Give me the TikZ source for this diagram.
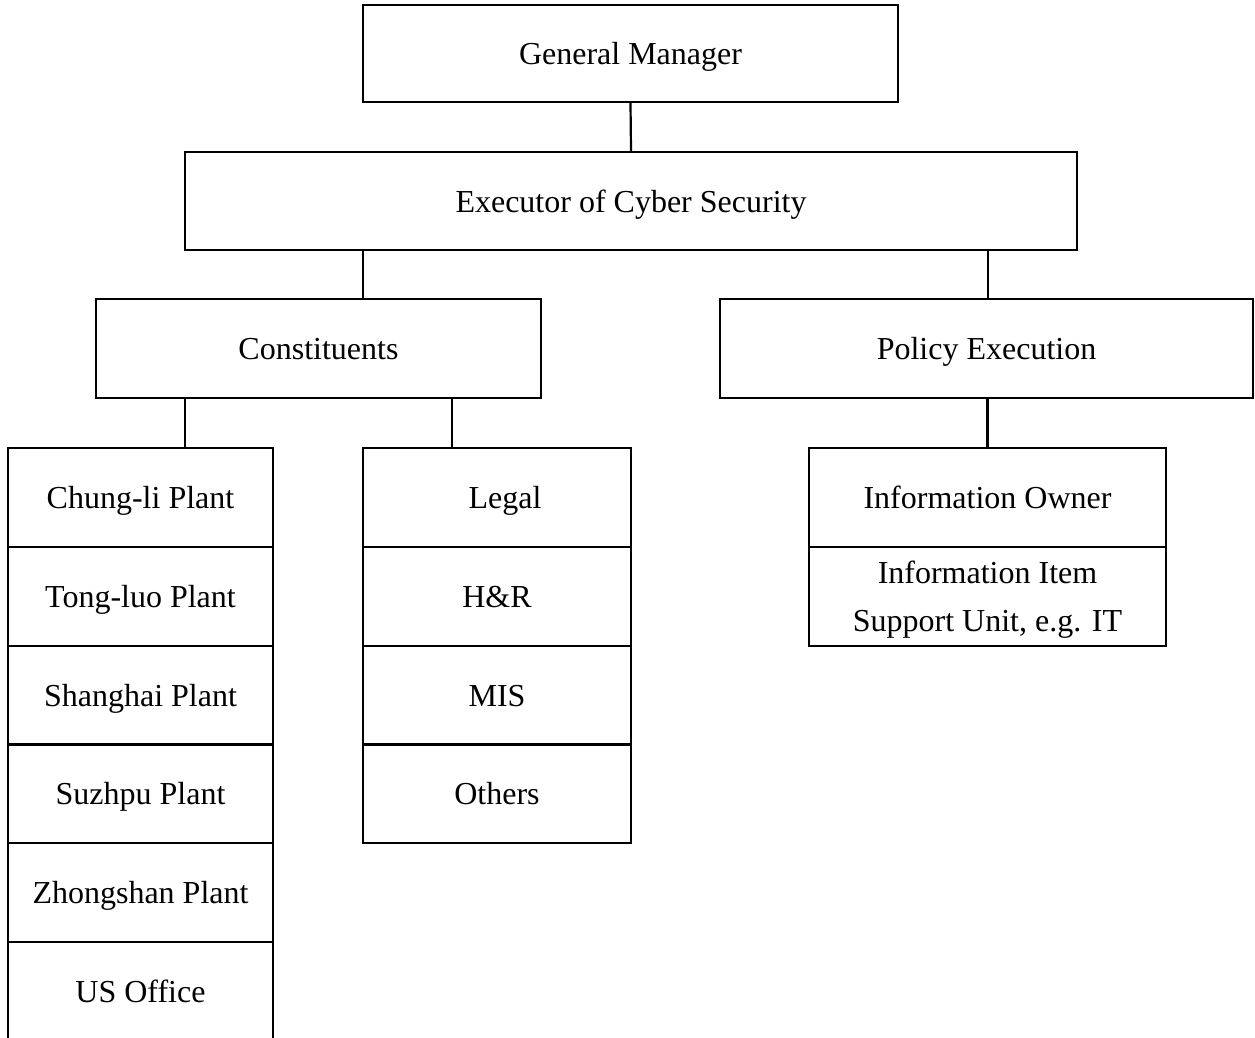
\documentclass[tikz,border=0pt]{standalone}
\usepackage{fontspec}
\setmainfont{Liberation Serif}
\begin{document}
\begin{tikzpicture}[x=1pt,y=-1pt,
  box/.style={draw, line width=2.2pt, inner sep=0pt, text height=22pt, text depth=0pt, font=\fontsize{32}{48}\selectfont, align=center},
  conn/.style={line width=2.2pt}]
\clip (0,0) rectangle (1255,1038);
% top levels
\node[box, minimum width=535, minimum height=97] (gm) at (630.5,53.5) {General Manager};
\node[box, minimum width=892, minimum height=98] (exec) at (631,201) {Executor of Cyber Security};
\node[box, minimum width=445, minimum height=99] (cons) at (318.5,348.5) {Constituents};
\node[box, minimum width=533, minimum height=99] (pol) at (986.5,348.5) {Policy Execution};
% plant column
\foreach \n/\t [count=\i from 0] in {p1/Chung-li Plant, p2/Tong-luo Plant, p3/Shanghai Plant, p4/Suzhpu Plant, p5/Zhongshan Plant, p6/US Office}{
  \node[box, minimum width=265, minimum height=98.8] (\n) at (140.5, 497.4+98.8*\i) {\t};
}
% department column
\foreach \n/\t [count=\i from 0] in {d1/\hspace*{16pt}Legal, d2/H\&R, d3/MIS, d4/Others}{
  \node[box, minimum width=268, minimum height=98.8] (\n) at (497, 497.4+98.8*\i) {\t};
}
% information column
\node[box, minimum width=357, minimum height=99] (i1) at (987.5,497.5) {Information Owner};
\node[box, text height=70pt, minimum width=357, minimum height=99] (i2) at (987.5,596.5) {Information Item\\Support Unit, e.g. IT};
% connectors
\draw[conn] (gm.south) -- (exec.north);
\draw[conn] ([xshift=44.5]cons.north) -- ([xshift=44.5]cons.north |- exec.south);
\draw[conn] ([xshift=1.5]pol.north) -- ([xshift=1.5]pol.north |- exec.south);
\draw[conn] ([xshift=44.5]p1.north) -- ([xshift=44.5]p1.north |- cons.south);
\draw[conn] ([xshift=-45]d1.north) -- ([xshift=-45]d1.north |- cons.south);
\draw[conn] (i1.north) -- (i1.north |- pol.south);
\end{tikzpicture}
\end{document}
